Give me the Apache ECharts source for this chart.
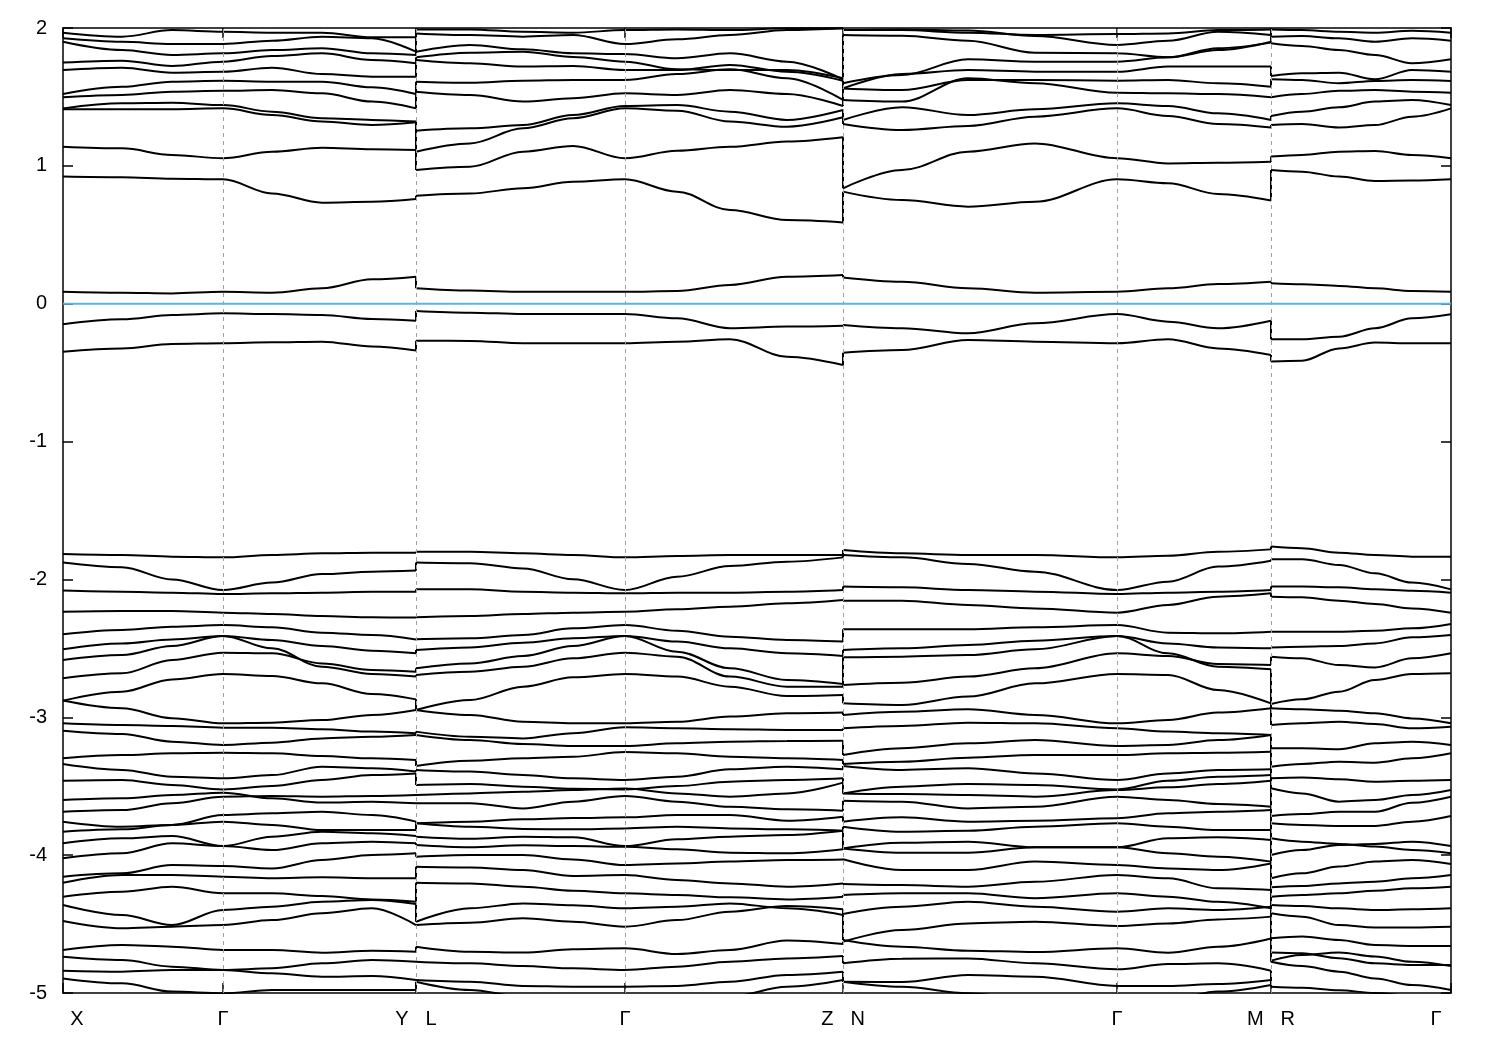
<!DOCTYPE html>
<html><head><meta charset="utf-8">
<script src="https://cdn.jsdelivr.net/npm/echarts@6/dist/echarts.min.js"></script>
<style>html,body{margin:0;padding:0;background:#fff}#chart{width:1500px;height:1050px}</style>
</head><body><div id="chart"></div>
<script>
// High-symmetry points along the k-path
const kTicks = [0, 160, 353, 562, 780, 1054, 1208, 1388];
const kLabels = [['X'], ['Γ'], ['Y', 'L'], ['Γ'], ['Z', 'N'], ['Γ'], ['M', 'R'], ['Γ']];
const yTicks = [-5, -4, -3, -2, -1, 0, 1, 2];
const fermiLevel = 0;

// Segment X-Γ-Y
const seg1K = [0, 59, 109, 160, 209, 259, 309, 353];
const seg1Bands = [
  [1.966,1.937,1.985,1.973,1.966,1.966,1.932,1.932],
  [1.925,1.900,1.884,1.884,1.908,1.937,1.925,1.828],
  [1.900,1.840,1.804,1.816,1.840,1.853,1.816,1.804],
  [1.749,1.763,1.724,1.756,1.797,1.816,1.768,1.744],
  [1.695,1.712,1.676,1.683,1.712,1.666,1.647,1.647],
  [1.521,1.574,1.611,1.618,1.611,1.611,1.570,1.521],
  [1.497,1.514,1.538,1.545,1.550,1.526,1.466,1.417],
  [1.417,1.454,1.458,1.441,1.393,1.345,1.333,1.321],
  [1.410,1.410,1.410,1.417,1.369,1.321,1.296,1.316],
  [1.139,1.127,1.079,1.055,1.103,1.132,1.120,1.115],
  [0.922,0.917,0.907,0.902,0.800,0.733,0.740,0.760],
  [0.087,0.080,0.075,0.087,0.080,0.112,0.177,0.196],
  [-0.149,-0.113,-0.082,-0.070,-0.075,-0.082,-0.111,-0.123],
  [-0.348,-0.324,-0.292,-0.287,-0.280,-0.275,-0.311,-0.340],
  [-1.816,-1.823,-1.835,-1.840,-1.823,-1.811,-1.806,-1.806],
  [-1.878,-1.912,-2.000,-2.077,-2.023,-1.961,-1.944,-1.936],
  [-2.081,-2.089,-2.096,-2.106,-2.101,-2.096,-2.089,-2.089],
  [-2.234,-2.229,-2.229,-2.241,-2.251,-2.265,-2.275,-2.277],
  [-2.398,-2.367,-2.343,-2.331,-2.347,-2.386,-2.403,-2.435],
  [-2.507,-2.464,-2.435,-2.410,-2.439,-2.483,-2.517,-2.536],
  [-2.584,-2.548,-2.483,-2.410,-2.500,-2.633,-2.686,-2.705],
  [-2.717,-2.681,-2.584,-2.531,-2.536,-2.609,-2.657,-2.669],
  [-2.879,-2.814,-2.725,-2.686,-2.700,-2.754,-2.831,-2.870],
  [-2.879,-2.935,-3.007,-3.044,-3.039,-3.020,-2.983,-2.947],
  [-3.044,-3.056,-3.063,-3.075,-3.075,-3.087,-3.104,-3.116],
  [-3.097,-3.121,-3.177,-3.201,-3.184,-3.153,-3.141,-3.128],
  [-3.298,-3.274,-3.261,-3.257,-3.261,-3.281,-3.298,-3.310],
  [-3.339,-3.382,-3.431,-3.443,-3.419,-3.358,-3.370,-3.394],
  [-3.460,-3.455,-3.491,-3.523,-3.499,-3.455,-3.419,-3.407],
  [-3.600,-3.588,-3.564,-3.547,-3.588,-3.619,-3.612,-3.624],
  [-3.685,-3.673,-3.624,-3.576,-3.571,-3.576,-3.571,-3.564],
  [-3.757,-3.794,-3.781,-3.709,-3.697,-3.685,-3.709,-3.757],
  [-3.830,-3.813,-3.781,-3.757,-3.781,-3.818,-3.818,-3.818],
  [-3.914,-3.878,-3.861,-3.934,-3.866,-3.830,-3.842,-3.861],
  [-4.023,-3.987,-3.914,-3.934,-3.963,-3.914,-3.902,-3.914],
  [-4.156,-4.132,-4.072,-4.079,-4.096,-4.035,-3.999,-3.987],
  [-4.200,-4.144,-4.144,-4.156,-4.168,-4.161,-4.168,-4.168],
  [-4.301,-4.265,-4.229,-4.277,-4.277,-4.296,-4.321,-4.338],
  [-4.362,-4.434,-4.507,-4.398,-4.374,-4.338,-4.325,-4.354],
  [-4.478,-4.531,-4.519,-4.507,-4.471,-4.422,-4.386,-4.507],
  [-4.688,-4.652,-4.664,-4.688,-4.688,-4.708,-4.693,-4.700],
  [-4.737,-4.761,-4.809,-4.833,-4.821,-4.785,-4.761,-4.773],
  [-4.838,-4.845,-4.833,-4.833,-4.857,-4.882,-4.877,-4.906],
  [-4.894,-4.930,-4.990,-5.002,-4.978,-4.978,-4.978,-4.978]
];

// Segment L-Γ-Z
const seg2K = [353, 407, 460, 510, 562, 614, 667, 724, 780];
const seg2Bands = [
  [1.990,1.990,1.973,1.966,1.985,1.990,1.985,1.998,1.998],
  [1.961,1.949,1.937,1.949,1.884,1.918,1.949,1.985,1.998],
  [1.828,1.877,1.845,1.816,1.811,1.780,1.816,1.756,1.628],
  [1.787,1.821,1.828,1.790,1.756,1.700,1.695,1.695,1.635],
  [1.768,1.744,1.720,1.724,1.695,1.695,1.732,1.683,1.618],
  [1.611,1.603,1.618,1.623,1.623,1.666,1.700,1.635,1.478],
  [1.538,1.514,1.466,1.490,1.526,1.514,1.550,1.521,1.434],
  [1.255,1.272,1.296,1.369,1.434,1.441,1.393,1.333,1.405],
  [1.103,1.163,1.272,1.345,1.417,1.400,1.321,1.284,1.352],
  [0.970,0.994,1.103,1.144,1.055,1.110,1.139,1.176,1.207],
  [0.784,0.800,0.837,0.885,0.902,0.813,0.680,0.607,0.590],
  [0.112,0.095,0.087,0.087,0.087,0.092,0.136,0.196,0.208],
  [-0.053,-0.065,-0.075,-0.075,-0.075,-0.106,-0.178,-0.166,-0.159],
  [-0.268,-0.270,-0.287,-0.287,-0.287,-0.275,-0.258,-0.384,-0.444],
  [-1.799,-1.799,-1.811,-1.823,-1.840,-1.830,-1.823,-1.823,-1.823],
  [-1.878,-1.883,-1.920,-1.999,-2.077,-1.980,-1.903,-1.871,-1.840],
  [-2.072,-2.072,-2.089,-2.096,-2.101,-2.096,-2.096,-2.089,-2.077],
  [-2.275,-2.265,-2.251,-2.241,-2.234,-2.217,-2.198,-2.173,-2.149],
  [-2.434,-2.427,-2.403,-2.355,-2.331,-2.372,-2.415,-2.439,-2.451],
  [-2.512,-2.493,-2.459,-2.427,-2.410,-2.451,-2.500,-2.536,-2.555],
  [-2.645,-2.609,-2.555,-2.483,-2.410,-2.524,-2.645,-2.729,-2.758],
  [-2.693,-2.669,-2.633,-2.572,-2.531,-2.560,-2.705,-2.778,-2.778],
  [-2.947,-2.875,-2.778,-2.710,-2.686,-2.705,-2.778,-2.846,-2.838],
  [-2.947,-2.983,-3.032,-3.044,-3.044,-3.032,-2.995,-2.971,-2.966],
  [-3.104,-3.141,-3.153,-3.116,-3.073,-3.080,-3.087,-3.092,-3.092],
  [-3.128,-3.165,-3.194,-3.208,-3.208,-3.189,-3.177,-3.172,-3.170],
  [-3.353,-3.315,-3.298,-3.286,-3.252,-3.261,-3.286,-3.298,-3.310],
  [-3.382,-3.394,-3.419,-3.443,-3.455,-3.431,-3.377,-3.358,-3.377],
  [-3.491,-3.484,-3.503,-3.518,-3.523,-3.499,-3.467,-3.455,-3.443],
  [-3.564,-3.552,-3.540,-3.528,-3.516,-3.552,-3.576,-3.552,-3.474],
  [-3.624,-3.624,-3.661,-3.612,-3.571,-3.612,-3.649,-3.668,-3.678],
  [-3.769,-3.757,-3.740,-3.731,-3.726,-3.709,-3.709,-3.750,-3.721],
  [-3.769,-3.794,-3.810,-3.813,-3.806,-3.794,-3.806,-3.813,-3.823],
  [-3.866,-3.881,-3.866,-3.871,-3.934,-3.885,-3.866,-3.854,-3.823],
  [-3.927,-3.943,-3.929,-3.934,-3.939,-3.958,-3.982,-3.987,-3.958],
  [-4.011,-3.999,-3.999,-4.031,-4.072,-4.060,-4.047,-4.035,-4.031],
  [-4.084,-4.089,-4.108,-4.151,-4.144,-4.180,-4.205,-4.229,-4.205],
  [-4.200,-4.205,-4.229,-4.258,-4.277,-4.289,-4.306,-4.321,-4.301],
  [-4.483,-4.386,-4.350,-4.364,-4.386,-4.374,-4.350,-4.386,-4.434],
  [-4.507,-4.490,-4.458,-4.483,-4.519,-4.471,-4.410,-4.369,-4.393],
  [-4.664,-4.700,-4.707,-4.683,-4.676,-4.717,-4.688,-4.620,-4.645],
  [-4.773,-4.785,-4.804,-4.821,-4.833,-4.809,-4.773,-4.749,-4.732],
  [-4.906,-4.918,-4.949,-4.954,-4.954,-4.949,-4.918,-4.869,-4.845],
  [-4.918,-4.978,-5.027,-5.051,-5.051,-5.051,-5.027,-4.954,-4.906]
];

// Segment N-Γ-M
const seg3K = [780, 839, 905, 972, 1054, 1105, 1155, 1208];
const seg3Bands = [
  [1.985,1.985,1.966,1.949,1.956,1.961,1.985,1.990],
  [1.985,1.990,1.981,1.942,1.877,1.908,1.973,1.949],
  [1.949,1.944,1.908,1.821,1.816,1.787,1.853,1.894],
  [1.599,1.659,1.773,1.756,1.756,1.787,1.840,1.900],
  [1.562,1.666,1.695,1.683,1.683,1.720,1.720,1.720],
  [1.562,1.550,1.623,1.623,1.618,1.623,1.599,1.574],
  [1.478,1.466,1.635,1.599,1.531,1.526,1.521,1.497],
  [1.333,1.425,1.369,1.410,1.454,1.434,1.381,1.333],
  [1.304,1.260,1.289,1.357,1.417,1.362,1.304,1.279],
  [0.837,0.970,1.103,1.163,1.055,1.018,1.023,1.030],
  [0.813,0.752,0.704,0.740,0.902,0.873,0.796,0.748],
  [0.191,0.160,0.112,0.080,0.087,0.112,0.143,0.160],
  [-0.154,-0.178,-0.215,-0.142,-0.075,-0.130,-0.178,-0.123],
  [-0.355,-0.336,-0.263,-0.275,-0.287,-0.258,-0.324,-0.372],
  [-1.787,-1.811,-1.823,-1.823,-1.840,-1.828,-1.799,-1.782],
  [-1.823,-1.840,-1.888,-1.944,-2.077,-2.016,-1.907,-1.864],
  [-2.052,-2.057,-2.077,-2.089,-2.106,-2.096,-2.089,-2.077],
  [-2.154,-2.154,-2.185,-2.210,-2.241,-2.185,-2.125,-2.101],
  [-2.362,-2.362,-2.362,-2.347,-2.331,-2.386,-2.391,-2.379],
  [-2.512,-2.500,-2.476,-2.444,-2.410,-2.464,-2.493,-2.500],
  [-2.565,-2.560,-2.548,-2.507,-2.410,-2.536,-2.633,-2.652],
  [-2.766,-2.749,-2.705,-2.645,-2.536,-2.555,-2.613,-2.621],
  [-2.899,-2.911,-2.850,-2.754,-2.686,-2.693,-2.802,-2.899],
  [-2.983,-2.959,-2.942,-2.983,-3.044,-3.020,-2.966,-2.935],
  [-3.080,-3.063,-3.039,-3.044,-3.080,-3.104,-3.116,-3.128],
  [-3.274,-3.225,-3.189,-3.165,-3.208,-3.201,-3.165,-3.128],
  [-3.339,-3.322,-3.293,-3.274,-3.274,-3.261,-3.257,-3.250],
  [-3.353,-3.382,-3.370,-3.407,-3.455,-3.407,-3.382,-3.377],
  [-3.552,-3.503,-3.484,-3.491,-3.523,-3.460,-3.431,-3.419],
  [-3.552,-3.557,-3.564,-3.576,-3.528,-3.508,-3.484,-3.460],
  [-3.605,-3.612,-3.661,-3.649,-3.576,-3.600,-3.629,-3.649],
  [-3.757,-3.726,-3.757,-3.750,-3.733,-3.697,-3.685,-3.673],
  [-3.794,-3.830,-3.823,-3.794,-3.769,-3.794,-3.818,-3.818],
  [-3.951,-3.910,-3.902,-3.943,-3.943,-3.878,-3.871,-3.890],
  [-3.951,-3.982,-3.982,-3.943,-3.943,-3.987,-4.011,-4.047],
  [-4.030,-4.108,-4.108,-4.047,-4.072,-4.096,-4.108,-4.060],
  [-4.209,-4.217,-4.229,-4.193,-4.144,-4.168,-4.241,-4.253],
  [-4.289,-4.277,-4.277,-4.313,-4.277,-4.301,-4.338,-4.386],
  [-4.427,-4.374,-4.338,-4.374,-4.410,-4.386,-4.398,-4.374],
  [-4.628,-4.543,-4.495,-4.483,-4.514,-4.495,-4.466,-4.446],
  [-4.616,-4.664,-4.693,-4.703,-4.676,-4.708,-4.664,-4.604],
  [-4.785,-4.751,-4.749,-4.785,-4.828,-4.790,-4.785,-4.838],
  [-4.918,-4.920,-4.869,-4.882,-4.949,-4.949,-4.935,-4.906],
  [-4.918,-4.954,-5.002,-5.051,-5.051,-5.051,-4.990,-4.942]
];

// Segment R-Γ
const seg4K = [1208, 1239, 1276, 1312, 1349, 1388];
const seg4Bands = [
  [1.990,1.985,1.973,1.966,1.980,1.966],
  [1.937,1.942,1.925,1.900,1.925,1.908],
  [1.889,1.869,1.840,1.804,1.744,1.773],
  [1.652,1.671,1.676,1.628,1.695,1.683],
  [1.628,1.623,1.599,1.616,1.623,1.616],
  [1.497,1.521,1.545,1.550,1.538,1.531],
  [1.362,1.393,1.425,1.466,1.478,1.441],
  [1.296,1.304,1.279,1.296,1.357,1.417],
  [1.067,1.079,1.103,1.108,1.079,1.055],
  [0.970,0.958,0.922,0.890,0.893,0.902],
  [0.148,0.141,0.129,0.112,0.092,0.087],
  [-0.258,-0.258,-0.239,-0.178,-0.106,-0.077],
  [-0.420,-0.413,-0.324,-0.282,-0.287,-0.287],
  [-1.762,-1.774,-1.806,-1.823,-1.835,-1.835],
  [-1.854,-1.854,-1.895,-1.956,-2.023,-2.072],
  [-2.052,-2.052,-2.057,-2.072,-2.082,-2.096],
  [-2.125,-2.130,-2.154,-2.178,-2.210,-2.241],
  [-2.379,-2.379,-2.379,-2.372,-2.355,-2.323],
  [-2.493,-2.488,-2.483,-2.464,-2.420,-2.403],
  [-2.560,-2.572,-2.621,-2.638,-2.572,-2.536],
  [-2.904,-2.870,-2.814,-2.729,-2.686,-2.681],
  [-2.935,-2.942,-2.952,-2.971,-3.008,-3.044],
  [-3.056,-3.044,-3.032,-3.049,-3.080,-3.068],
  [-3.225,-3.225,-3.232,-3.189,-3.177,-3.201],
  [-3.358,-3.339,-3.322,-3.329,-3.298,-3.261],
  [-3.443,-3.436,-3.450,-3.467,-3.460,-3.455],
  [-3.515,-3.552,-3.612,-3.600,-3.564,-3.527],
  [-3.716,-3.702,-3.685,-3.685,-3.620,-3.576],
  [-3.769,-3.781,-3.788,-3.788,-3.757,-3.716],
  [-3.999,-3.963,-3.926,-3.919,-3.902,-3.934],
  [-3.878,-3.902,-3.919,-3.938,-3.963,-3.987],
  [-4.168,-4.132,-4.083,-4.047,-4.035,-4.064],
  [-4.233,-4.224,-4.205,-4.193,-4.168,-4.144],
  [-4.301,-4.289,-4.277,-4.258,-4.241,-4.229],
  [-4.422,-4.446,-4.507,-4.524,-4.524,-4.519],
  [-4.362,-4.369,-4.386,-4.398,-4.393,-4.386],
  [-4.603,-4.591,-4.616,-4.652,-4.659,-4.659],
  [-4.707,-4.712,-4.748,-4.785,-4.797,-4.797],
  [-4.765,-4.724,-4.707,-4.736,-4.773,-4.805],
  [-4.773,-4.804,-4.845,-4.894,-4.942,-4.978],
  [-4.954,-4.962,-4.980,-5.000,-5.020,-5.040]
];

const segments = [
  { k: seg1K, bands: seg1Bands },
  { k: seg2K, bands: seg2Bands },
  { k: seg3K, bands: seg3Bands },
  { k: seg4K, bands: seg4Bands }
];

const FONT = 'Liberation Sans, Arial, sans-serif';
const bandStyle = {
  type: 'line', showSymbol: false, symbol: 'none', smooth: 0.35, smoothMonotone: 'x',
  silent: true, animation: false, z: 3,
  lineStyle: { color: '#000', width: 2 }
};

const series = [];
segments.forEach(seg => {
  seg.bands.forEach(b => {
    series.push(Object.assign({}, bandStyle, { data: seg.k.map((k, i) => [k, b[i]]) }));
  });
});

// Vertical jumps at the path discontinuities: pair bands by rank from the Fermi level
for (let s = 0; s < segments.length - 1; s++) {
  const a = segments[s], b = segments[s + 1];
  const k = a.k[a.k.length - 1];
  const endV = a.bands.map(x => x[x.length - 1]);
  const startV = b.bands.map(x => x[0]);
  const pairUp = (arrA, arrB, desc) => {
    const sa = arrA.slice().sort((p, q) => desc ? q - p : p - q);
    const sb = arrB.slice().sort((p, q) => desc ? q - p : p - q);
    const n = Math.min(sa.length, sb.length);
    for (let i = 0; i < n; i++) {
      series.push(Object.assign({}, bandStyle, { smooth: false, data: [[k, sa[i]], [k, sb[i]]] }));
    }
  };
  pairUp(endV.filter(v => v < fermiLevel), startV.filter(v => v < fermiLevel), true);
  pairUp(endV.filter(v => v >= fermiLevel), startV.filter(v => v >= fermiLevel), false);
}

// Fermi level line and dashed high-symmetry guides
series.push({
  type: 'line', symbol: 'none', silent: true, animation: false, z: 2,
  data: [[kTicks[0], fermiLevel], [kTicks[kTicks.length - 1], fermiLevel]],
  lineStyle: { color: '#56b4e9', width: 2 },
  markLine: {
    silent: true, symbol: ['none', 'none'], animation: false,
    label: { show: false },
    lineStyle: { color: '#a0a0a0', width: 1, type: [4, 4] },
    data: kTicks.slice(1, -1).map(k => ({ xAxis: k }))
  }
});

const labelFormatter = (value) => {
  const idx = kTicks.indexOf(value);
  if (idx < 0) return '';
  const parts = kLabels[idx];
  if (idx === 0) return '{first|' + parts[0] + '}';
  if (idx === kTicks.length - 1) return '{last|' + parts[0] + '}';
  if (parts.length === 2) return '{n|' + parts[0] + '}{second|' + parts[1] + '}';
  return '{n|' + parts[0] + '}';
};
const baseRich = { fontSize: 20, fontFamily: FONT, color: '#000' };

const axisLineStyle = { show: true, onZero: false, lineStyle: { color: '#000', width: 1.5 } };
const tickStyle = { color: '#000', width: 1.5 };

const option = {
  backgroundColor: '#fff',
  animation: false,
  grid: { left: 63, right: 49, top: 28, bottom: 57, containLabel: false },
  xAxis: [
    {
      type: 'value', position: 'bottom', min: kTicks[0], max: kTicks[kTicks.length - 1],
      axisLine: axisLineStyle,
      axisTick: { show: true, inside: true, length: 10, customValues: kTicks, lineStyle: tickStyle },
      axisLabel: {
        show: true, customValues: kTicks, margin: 16, showMinLabel: true, showMaxLabel: true,
        formatter: labelFormatter, fontSize: 20, fontFamily: FONT, color: '#000',
        rich: {
          n: baseRich,
          first: Object.assign({}, baseRich, { padding: [0, 0, 0, 28] }),
          last: Object.assign({}, baseRich, { padding: [0, 30, 0, 0] }),
          second: Object.assign({}, baseRich, { padding: [0, 0, 0, 17] })
        }
      },
      splitLine: { show: false }
    },
    {
      type: 'value', position: 'top', min: kTicks[0], max: kTicks[kTicks.length - 1],
      axisLine: axisLineStyle,
      axisTick: { show: true, inside: true, length: 10, customValues: kTicks, lineStyle: tickStyle },
      axisLabel: { show: false },
      splitLine: { show: false }
    }
  ],
  yAxis: [
    {
      type: 'value', position: 'left', min: yTicks[0], max: yTicks[yTicks.length - 1], interval: 1,
      axisLine: axisLineStyle,
      axisTick: { show: true, inside: true, length: 10, lineStyle: tickStyle },
      axisLabel: { fontSize: 20, fontFamily: FONT, color: '#000', margin: 16 },
      splitLine: { show: false }
    },
    {
      type: 'value', position: 'right', min: yTicks[0], max: yTicks[yTicks.length - 1], interval: 1,
      axisLine: axisLineStyle,
      axisTick: { show: true, inside: true, length: 10, lineStyle: tickStyle },
      axisLabel: { show: false },
      splitLine: { show: false }
    }
  ],
  series: series
};

const chart = echarts.init(document.getElementById('chart'), null, { renderer: 'canvas' });
chart.setOption(option);
</script>
</body></html>
